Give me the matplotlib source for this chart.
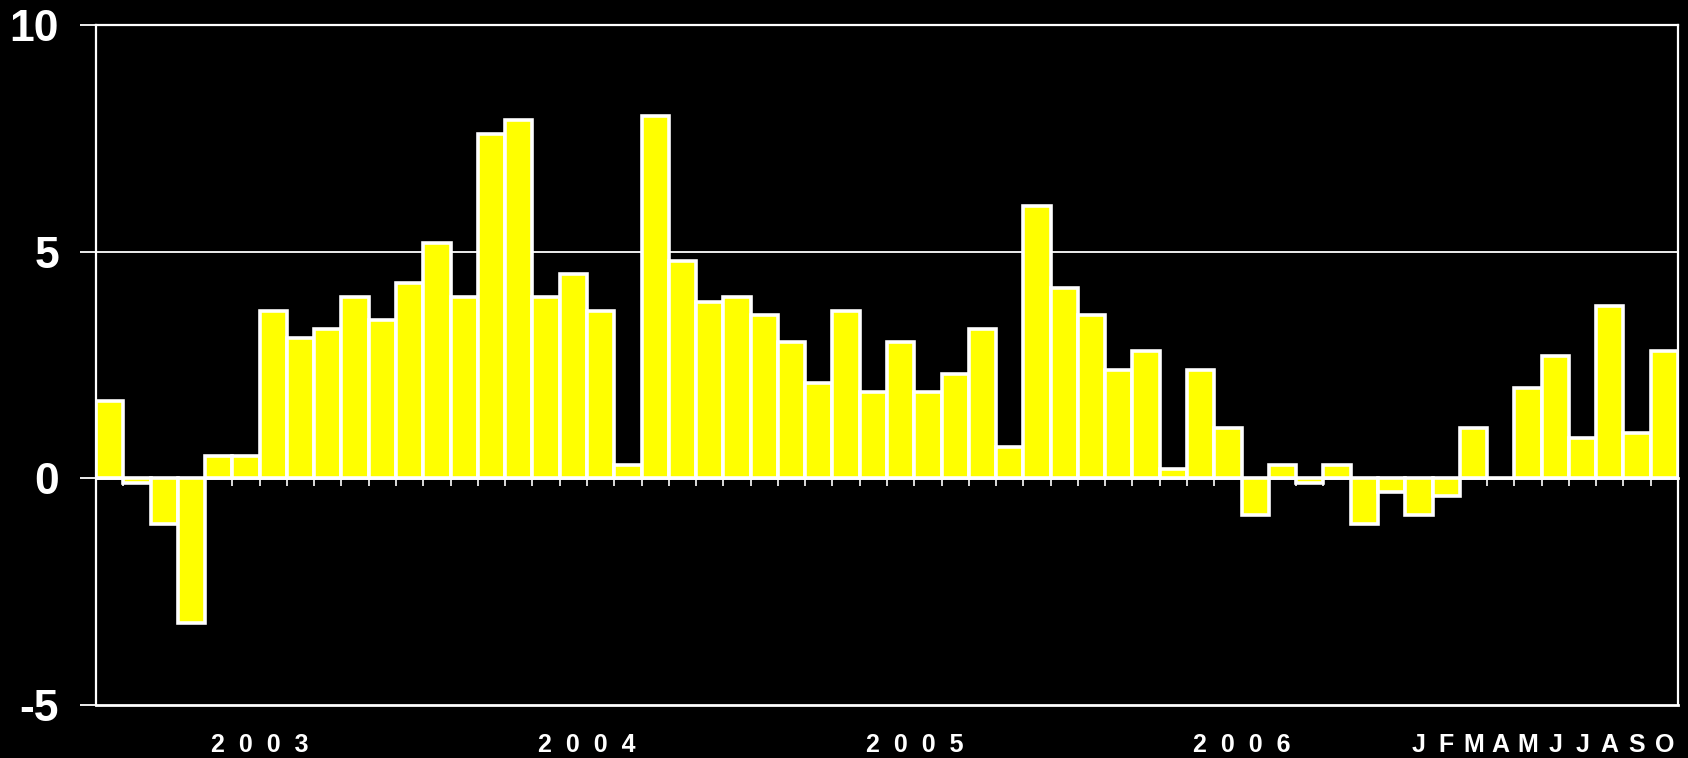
import numpy as np
import matplotlib
matplotlib.use("Agg")
import matplotlib.pyplot as plt
from matplotlib.transforms import blended_transform_factory

# monthly values, Jan 2003 .. Oct 2007
values = [1.7, -0.1, -1.0, -3.2, 0.5, 0.5, 3.7, 3.1, 3.3, 4.0, 3.5, 4.3,
          5.2, 4.0, 7.6, 7.9, 4.0, 4.5, 3.7, 0.3, 8.0, 4.8, 3.9, 4.0,
          3.6, 3.0, 2.1, 3.7, 1.9, 3.0, 1.9, 2.3, 3.3, 0.7, 6.0, 4.2,
          3.6, 2.4, 2.8, 0.2, 2.4, 1.1, -0.8, 0.3, -0.1, 0.3, -1.0, -0.3,
          -0.8, -0.4, 1.1, 0.0, 2.0, 2.7, 0.9, 3.8, 1.0, 2.8]
years = ["2  0  0  3", "2  0  0  4", "2  0  0  5", "2  0  0  6"]
months = ["J", "F", "M", "A", "M", "J", "J", "A", "S", "O"]
yticks = [-5, 0, 5, 10]

plt.rcParams['font.family'] = ['Liberation Sans', 'DejaVu Sans']
plt.rcParams['font.weight'] = 'bold'

fig = plt.figure(figsize=(16.88, 7.58), dpi=100, facecolor='black')
ax = fig.add_axes([96/1688, 53/758, 1582/1688, 680/758])
ax.set_facecolor('black')

x = np.arange(1, len(values) + 1)
ax.bar(x, values, width=1.0, color='#ffff00', edgecolor='white',
       linewidth=2.6, zorder=3)

ax.set_xlim(0.5, len(values) + 0.5)
ax.set_ylim(-5, 10)

# gridlines at 5 and 10
for g in [5, 10]:
    ax.axhline(g, color='white', lw=1.3, zorder=1)
ax.axhline(-5, color='white', lw=2.0, zorder=1, clip_on=False)

ax.spines['bottom'].set_position(('data', 0))
for s in ax.spines.values():
    s.set_color('white')
    s.set_linewidth(1.6)
ax.spines['bottom'].set_linewidth(2.0)
ax.spines['bottom'].set_zorder(2)

ax.set_xticks(np.arange(0.5, len(values) + 1, 1.0))
ax.set_xticklabels([])
ax.tick_params(axis='x', direction='out', length=6, width=1.2, color='white')

ax.set_yticks(yticks)
ax.set_yticklabels([str(t) for t in yticks])
ax.tick_params(axis='y', direction='out', length=11.5, width=1.3,
               color='white', labelcolor='white', labelsize=32, pad=15)

# bottom labels: years, then single months
tr = blended_transform_factory(ax.transData, fig.transFigure)
for i, yl in enumerate(years):
    ax.text(6.5 + 12 * i, 6 / 758, yl, transform=tr, ha='center',
            va='baseline', color='white', fontsize=18, fontweight='bold')
for j, m in enumerate(months):
    ax.text(49 + j, 6 / 758, m, transform=tr, ha='center', va='baseline',
            color='white', fontsize=18, fontweight='bold')

fig.savefig('out.png', dpi=100, facecolor='black')
